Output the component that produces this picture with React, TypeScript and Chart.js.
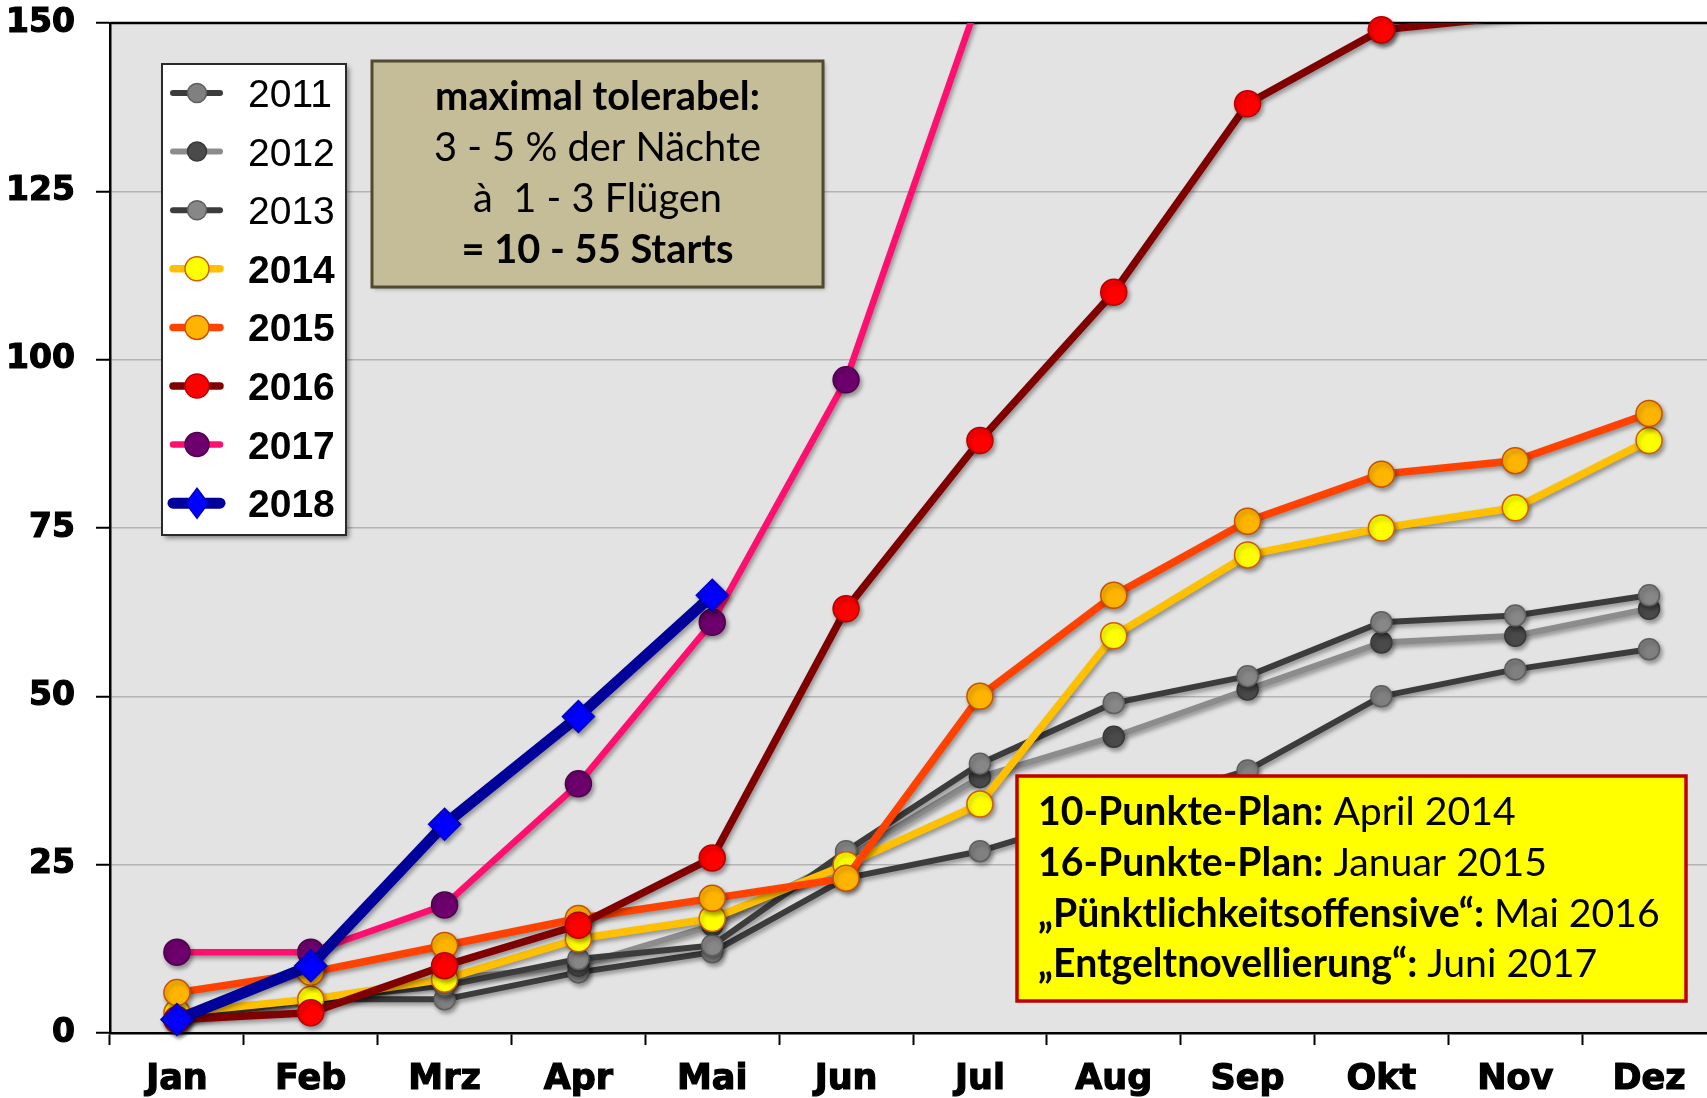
import React, { useEffect, useRef } from "react";
import { Chart, registerables } from "chart.js";

Chart.register(...registerables);

// ---------- data ----------
const months = ["Jan", "Feb", "Mrz", "Apr", "Mai", "Jun", "Jul", "Aug", "Sep", "Okt", "Nov", "Dez"];
const years = ["2011", "2012", "2013", "2014", "2015", "2016", "2017", "2018"];

const v2011 = [2, 5, 5, 9, 12, 23, 27, 33, 39, 50, 54, 57];
const v2012 = [3, 5, 8, 10, 16, 26, 38, 44, 51, 58, 59, 63];
const v2013 = [2, 5, 7, 11, 13, 27, 40, 49, 53, 61, 62, 65];
const v2014 = [3, 5, 8, 14, 17, 25, 34, 59, 71, 75, 78, 88];
const v2015 = [6, 9, 13, 17, 20, 23, 50, 65, 76, 83, 85, 92];
const v2016 = [2, 3, 10, 16, 26, 63, 88, 110, 138, 149, 151, 153];
const v2017 = [12, 12, 19, 37, 61, 97, 154, null, null, null, null, null];
const v2018 = [2, 10, 31, 47, 65, null, null, null, null, null, null, null];

const yMin = 0;
const yMax = 150;
const yStep = 25;

type Part = { t: string; b: boolean };
const toleranceNote: Part[][] = [
  [{ t: "maximal tolerabel:", b: true }],
  [{ t: "3 - 5 % der Nächte", b: false }],
  [{ t: "à  1 - 3 Flügen", b: false }],
  [{ t: "= 10 - 55 Starts", b: true }],
];
const measuresNote: Part[][] = [
  [{ t: "10-Punkte-Plan:", b: true }, { t: " April 2014", b: false }],
  [{ t: "16-Punkte-Plan:", b: true }, { t: " Januar 2015", b: false }],
  [{ t: "„Pünktlichkeitsoffensive“:", b: true }, { t: " Mai 2016", b: false }],
  [{ t: "„Entgeltnovellierung“:", b: true }, { t: " Juni 2017", b: false }],
];

// ---------- helpers ----------
const NOTE_FONT = "Lato, 'Open Sans', sans-serif";
const SHADOW = "rgba(0,0,0,0.35)";

function lineWidth(ctx: CanvasRenderingContext2D, parts: Part[], size: number) {
  let w = 0;
  for (const p of parts) {
    ctx.font = `${p.b ? "bold" : "normal"} ${size}px ${NOTE_FONT}`;
    w += ctx.measureText(p.t).width;
  }
  return w;
}

function drawParts(ctx: CanvasRenderingContext2D, parts: Part[], x: number, y: number, size: number) {
  let cx = x;
  ctx.textAlign = "left";
  ctx.textBaseline = "alphabetic";
  for (const p of parts) {
    ctx.font = `${p.b ? "bold" : "normal"} ${size}px ${NOTE_FONT}`;
    ctx.fillText(p.t, cx, y);
    cx += ctx.measureText(p.t).width;
  }
}

function setShadow(ctx: CanvasRenderingContext2D) {
  ctx.shadowColor = SHADOW;
  ctx.shadowBlur = 4;
  ctx.shadowOffsetX = 2;
  ctx.shadowOffsetY = 3;
}

const plotBgPlugin = {
  id: "plotBg",
  beforeDraw(chart: any) {
    const { ctx, chartArea: a } = chart;
    ctx.save();
    ctx.fillStyle = "#e3e3e3";
    ctx.fillRect(a.left, a.top, a.right - a.left, a.bottom - a.top);
    ctx.restore();
  },
  beforeDatasetsDraw(chart: any) {
    const { ctx, chartArea: a } = chart;
    ctx.save();
    ctx.strokeStyle = "#000";
    ctx.lineWidth = 2.5;
    ctx.beginPath();
    ctx.moveTo(a.left, a.top);
    ctx.lineTo(a.right, a.top);
    ctx.stroke();
    ctx.restore();
  },
};

const shadowPlugin = {
  id: "lineShadow",
  beforeDatasetDraw(chart: any) {
    const ctx = chart.ctx;
    ctx.save();
    setShadow(ctx);
  },
  afterDatasetDraw(chart: any) {
    chart.ctx.restore();
  },
  afterDatasetsDraw(chart: any) {
    // markers inside the value range that poke over the top edge
    const ctx = chart.ctx;
    const a = chart.chartArea;
    chart.getSortedVisibleDatasetMetas().slice().reverse().forEach((meta: any) => {
      const ds = chart.data.datasets[meta.index];
      meta.data.forEach((pt: any, i: number) => {
        const v = ds.data[i];
        if (v == null || v > yMax) return;
        if (pt.y - ds.markerSize < a.top) {
          ctx.save();
          setShadow(ctx);
          pt.draw(ctx);
          ctx.restore();
        }
      });
    });
  },
};

const legendPlugin = {
  id: "boxLegend",
  afterDraw(chart: any) {
    const ctx: CanvasRenderingContext2D = chart.ctx;
    const bx = 162, by = 64, bw = 184, bh = 471;
    ctx.save();
    ctx.shadowColor = "rgba(0,0,0,0.45)";
    ctx.shadowBlur = 5;
    ctx.shadowOffsetX = 3;
    ctx.shadowOffsetY = 3;
    ctx.fillStyle = "#ffffff";
    ctx.fillRect(bx, by, bw, bh);
    ctx.shadowColor = "transparent";
    ctx.strokeStyle = "#2a2a2a";
    ctx.lineWidth = 2;
    ctx.strokeRect(bx, by, bw, bh);

    chart.data.datasets.forEach((ds: any, i: number) => {
      const cy = 93 + i * 58.6;
      ctx.lineCap = "round";
      ctx.strokeStyle = ds.borderColor;
      ctx.lineWidth = ds.borderWidth;
      ctx.beginPath();
      ctx.moveTo(173, cy);
      ctx.lineTo(220, cy);
      ctx.stroke();
      const mx = 197;
      const r = ds.markerSize - 1;
      ctx.fillStyle = ds.pointBackgroundColor;
      ctx.strokeStyle = ds.pointBorderColor;
      ctx.lineWidth = ds.pointBorderWidth;
      ctx.beginPath();
      if (ds.pointStyle === "rectRot") {
        ctx.moveTo(mx, cy - r);
        ctx.lineTo(mx + r * 0.75, cy);
        ctx.lineTo(mx, cy + r);
        ctx.lineTo(mx - r * 0.75, cy);
        ctx.closePath();
      } else {
        ctx.arc(mx, cy, r, 0, Math.PI * 2);
      }
      ctx.fill();
      ctx.stroke();
      ctx.fillStyle = "#000";
      ctx.font = `${i >= 3 ? "bold" : "normal"} 39px 'Liberation Sans', Arial, sans-serif`;
      ctx.textAlign = "left";
      ctx.textBaseline = "alphabetic";
      ctx.fillText(ds.label, 248, cy + 14);
    });
    ctx.restore();
  },
};

const notesPlugin = {
  id: "notes",
  afterDraw(chart: any) {
    const ctx: CanvasRenderingContext2D = chart.ctx;
    ctx.save();

    // tolerance box
    const tx = 372, ty = 61, tw = 451, th = 226;
    ctx.shadowColor = "rgba(0,0,0,0.35)";
    ctx.shadowBlur = 4;
    ctx.shadowOffsetX = 2;
    ctx.shadowOffsetY = 2;
    ctx.fillStyle = "#c5bd98";
    ctx.fillRect(tx, ty, tw, th);
    ctx.shadowColor = "transparent";
    ctx.strokeStyle = "#4f4a30";
    ctx.lineWidth = 3;
    ctx.strokeRect(tx, ty, tw, th);
    const s1 = (100 * 325) / lineWidth(ctx, toleranceNote[0], 100);
    ctx.fillStyle = "#000";
    const base1 = [110, 161, 212, 263];
    toleranceNote.forEach((parts, i) => {
      const w = lineWidth(ctx, parts, s1);
      drawParts(ctx, parts, 597.5 - w / 2, base1[i], s1);
    });

    // measures box
    const mx = 1017, my = 776, mw = 669, mh = 225;
    ctx.fillStyle = "#ffff00";
    ctx.fillRect(mx, my, mw, mh);
    ctx.strokeStyle = "#c00000";
    ctx.lineWidth = 3.5;
    ctx.strokeRect(mx, my, mw, mh);
    const s2 = (100 * 622) / lineWidth(ctx, measuresNote[2], 100);
    ctx.fillStyle = "#000";
    const base2 = [825, 876, 927, 977];
    measuresNote.forEach((parts, i) => {
      drawParts(ctx, parts, 1038, base2[i], s2);
    });
    ctx.restore();
  },
};

const clipBox = { left: 30, right: 30, top: 0, bottom: 30 };

function series(
  label: string,
  data: (number | null)[],
  line: string,
  fill: string,
  border: string,
  order: number,
  width: number,
  radius: number,
  style = "circle"
) {
  return {
    label,
    data,
    borderColor: line,
    backgroundColor: fill,
    pointBackgroundColor: fill,
    pointBorderColor: border,
    borderWidth: width,
    markerSize: radius,
    pointRadius: (c: any) => (c.raw != null && c.raw > yMax ? 0 : radius),
    pointBorderWidth: 1.5,
    pointStyle: style,
    borderJoinStyle: "round",
    borderCapStyle: "round",
    order,
    clip: clipBox,
  };
}

const tickFont = { family: "'DejaVu Sans'", weight: "bold", size: 33 };

export default function App() {
  const ref = useRef<HTMLCanvasElement>(null);

  useEffect(() => {
    const canvas = ref.current;
    if (!canvas) return;
    const datasets: any[] = [
      series(years[0], v2011, "#3c3c3c", "#808080", "#5e5e5e", 7, 6, 10.5),
      series(years[1], v2012, "#8c8c8c", "#4a4a4a", "#383838", 6, 6, 10.5),
      series(years[2], v2013, "#3c3c3c", "#878787", "#5e5e5e", 5, 6, 10.5),
      series(years[3], v2014, "#ffc000", "#ffff00", "#d45a00", 4, 7.5, 13),
      series(years[4], v2015, "#ff4200", "#ffb400", "#c85000", 3, 7.5, 13),
      series(years[5], v2016, "#800000", "#ff0000", "#b80000", 2, 7.5, 13),
      series(years[6], v2017, "#ff1070", "#6e006e", "#4e004e", 1, 6.5, 13),
      series(years[7], v2018, "#00009a", "#0000ff", "#0000c0", 0, 11, 16, "rectRot"),
    ];

    const chart = new Chart(canvas, {
      type: "line",
      data: { labels: months, datasets },
      options: {
        responsive: false,
        animation: false,
        events: [],
        layout: { autoPadding: false, padding: { top: 23, left: 0, right: 0, bottom: 0 } },
        plugins: {
          legend: { display: false },
          tooltip: { enabled: false },
          title: { display: false },
        },
        scales: {
          x: {
            type: "category",
            offset: true,
            afterFit: (s: any) => {
              s.height = 65;
              s.paddingLeft = 0;
              s.paddingRight = 0;
            },
            grid: {
              offset: true,
              drawOnChartArea: false,
              drawTicks: true,
              tickLength: 12,
              tickColor: "#000",
              tickWidth: 2,
            },
            border: { display: true, color: "#000", width: 2.5 },
            ticks: {
              color: "#000",
              padding: 14,
              maxRotation: 0,
              autoSkip: false,
              textStrokeColor: "#000",
              textStrokeWidth: 1.2,
              font: { ...tickFont, size: 35 },
            },
          },
          y: {
            type: "linear",
            min: yMin,
            max: yMax,
            afterFit: (s: any) => {
              s.width = 110;
              s.paddingTop = 0;
              s.paddingBottom = 0;
            },
            grid: {
              color: (c: any) =>
                c.tick && (c.tick.value === yMin || c.tick.value === yMax) ? "rgba(0,0,0,0)" : "#b4b4b4",
              lineWidth: 1.5,
              drawTicks: true,
              tickLength: 14,
              tickColor: "#000",
              tickWidth: 2,
            },
            border: { display: true, color: "#000", width: 2.5 },
            ticks: {
              stepSize: yStep,
              color: "#000",
              padding: 21,
              textStrokeColor: "#000",
              textStrokeWidth: 1.2,
              font: tickFont,
            },
          },
        },
      } as any,
      plugins: [plotBgPlugin, shadowPlugin, notesPlugin, legendPlugin],
    });

    return () => chart.destroy();
  }, []);

  return (
    <div
      style={{
        position: "fixed",
        left: 0,
        top: 0,
        width: 1707,
        height: 1098,
        overflow: "hidden",
        background: "#ffffff",
      }}
    >
      <canvas ref={ref} width={1716} height={1098} style={{ display: "block", width: 1716, height: 1098 }} />
    </div>
  );
}
